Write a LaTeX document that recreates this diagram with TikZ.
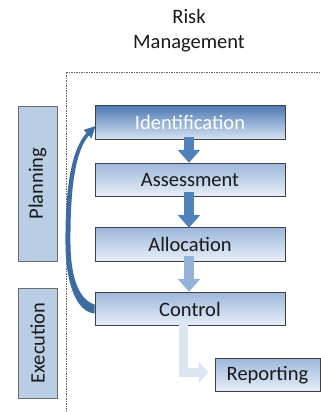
\documentclass[tikz,border=0pt]{standalone}
\usepackage{fontspec}
\setmainfont{Carlito}
\usetikzlibrary{arrows.meta,calc}
\definecolor{boxline}{HTML}{404040}
\definecolor{idtop}{HTML}{4E7AB4}
\definecolor{idbot}{HTML}{D6E2F2}
\definecolor{bxtop}{HTML}{9DB8DC}
\definecolor{bxbot}{HTML}{E8EFF8}
\definecolor{sidefill}{HTML}{B9CDE5}
\definecolor{sideline}{HTML}{6B6B6B}
\definecolor{curvecol}{HTML}{3D6CA3}
\definecolor{arrdark}{HTML}{4F81BD}
\definecolor{arrmid}{HTML}{95B3D7}
\definecolor{arrlight}{HTML}{DCE6F2}
\tikzset{
  bigfont/.style={font=\fontsize{20.5}{25}\selectfont},
  stepbox/.style={draw=boxline, line width=0.9pt, inner sep=0pt, bigfont,
    top color=bxtop, bottom color=bxbot, minimum width=190pt, minimum height=33.5pt, text=black!90},
  sidebox/.style={draw=sideline, line width=0.9pt, fill=sidefill, inner sep=0pt, bigfont,
    rotate=90, minimum height=39pt, text=black!90},
  blockarr/.style={line width=10pt, -{Triangle[width=22pt,length=13pt]}},
}
\begin{document}
\begin{tikzpicture}[x=1pt,y=-1pt]
\useasboundingbox (0,0) rectangle (321,412);
% title
\node[bigfont, align=center, text=black!90] (title) at (189,30.5) {Risk\\Management};
% dashed frame
\coordinate (fb) at (66,412);
\coordinate (fc) at (66,72);
\coordinate (fr) at (321,72);
\draw[black!60, line width=0.6pt, dash pattern=on 1.5pt off 1pt] (fb) -- (fc) -- (fr);
% side boxes
\node[sidebox, minimum width=155pt] (planning) at (37.5,183.5) {Planning};
\node[sidebox, minimum width=110pt] (execution) at (37.5,343) {Execution};
% step boxes
\node[stepbox, top color=idtop, bottom color=idbot, text=white] (ident) at (190,122.5) {Identification};
\node[stepbox] (assess) at (190,180) {Assessment};
\node[stepbox] (alloc) at (190,244.5) {Allocation};
\node[stepbox] (control) at (190,309) {Control};
\node[stepbox, minimum width=105pt] (report) at (267.5,375) {Reporting};
% block arrows
\draw[blockarr, arrdark] ([xshift=-1pt,yshift=3pt]ident.south) -- ([xshift=-1pt]assess.north);
\draw[blockarr, arrdark] ([xshift=-1pt,yshift=5pt]assess.south) -- ([xshift=-1pt,yshift=-0.5pt]alloc.north);
\draw[blockarr, arrmid] ([xshift=-1pt,yshift=6pt]alloc.south) -- ([xshift=-1pt]control.north);
\draw[line width=9pt, arrlight, -{Triangle[width=21pt,length=10pt]}]
  ([xshift=-6.5pt,yshift=6pt]control.south) |- ([xshift=-6pt,yshift=2.5pt]report.west);
% curved tapered arrow from Control back to Identification
\fill[curvecol]
  ($(control.west)+(0,4.5)$) .. controls (77,312) and (66,285) .. (65.5,245)
    .. controls (65,190) and (71,150) .. (86.5,133)
  -- (83.5,130) -- (95.5,126) -- (91.5,138.5) -- (89,135.5)
    .. controls (75,151) and (70,190) .. (70.5,245)
    .. controls (71,280) and (80,300) .. ($(control.west)+(0,-4.5)$) -- cycle;
\end{tikzpicture}
\end{document}
